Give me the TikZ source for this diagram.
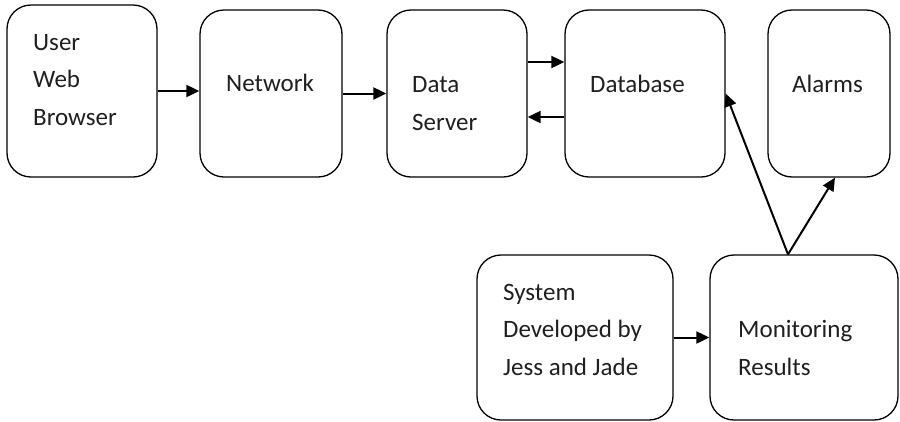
\documentclass[tikz,border=0pt]{standalone}
\usepackage{fontspec}
\setmainfont{Carlito}
\usetikzlibrary{arrows.meta}
\tikzset{
  box/.style={draw=black, line width=1.3pt, rounded corners=24pt, inner sep=0pt},
  txt/.style={anchor=base west, align=left, inner sep=0pt, text=black!88,
              font=\fontsize{25}{37.5}\selectfont},
  arr/.style={line width=2pt, -{Triangle[length=13pt,width=12pt]}}
}
\begin{document}
\begin{tikzpicture}[x=1pt, y=-1pt]
\useasboundingbox (0,0) rectangle (900,421);
% boxes
\node[box, minimum width=150pt, minimum height=172pt] (user) at (82,91) {};
\node[box, minimum width=142pt, minimum height=167pt] (net) at (271,93.5) {};
\node[box, minimum width=140pt, minimum height=167pt] (ds) at (457,93.5) {};
\node[box, minimum width=160pt, minimum height=167pt] (db) at (645,93.5) {};
\node[box, minimum width=122pt, minimum height=167pt] (al) at (829,93.5) {};
\node[box, minimum width=196pt, minimum height=165pt] (sys) at (575,337.5) {};
\node[box, minimum width=188pt, minimum height=165pt] (mon) at (804,337.5) {};
% labels (anchored at the baseline of the last line)
\node[txt] (userT) at (33,125) {User\\Web\\Browser};
\node[txt] (netT) at (226,91) {Network};
\node[txt] (dsT) at (412,130) {Data\\Server};
\node[txt] (dbT) at (590,92) {Database};
\node[txt] (alT) at (792,92) {Alarms};
\node[txt] (sysT) at (503,375) {System\\Developed by\\Jess and Jade};
\node[txt] (monT) at (738,375) {Monitoring\\Results};
% connectors
\coordinate (fork) at ([xshift=-16pt]mon.north);
\draw[arr] (user.east) -- (net.west |- user.east);
\draw[arr] (net.east) -- (ds.west);
\draw[arr] ([yshift=31.5pt]ds.east) -- ([yshift=31.5pt]db.west);
\draw[arr] ([yshift=-23.5pt]db.west) -- ([yshift=-23.5pt]ds.east);
\draw[arr] (sys.east) -- (mon.west);
\draw[arr] (fork) -- (db.east);
\draw[arr] (fork) -- ([xshift=6pt]al.south);
\end{tikzpicture}
\end{document}
